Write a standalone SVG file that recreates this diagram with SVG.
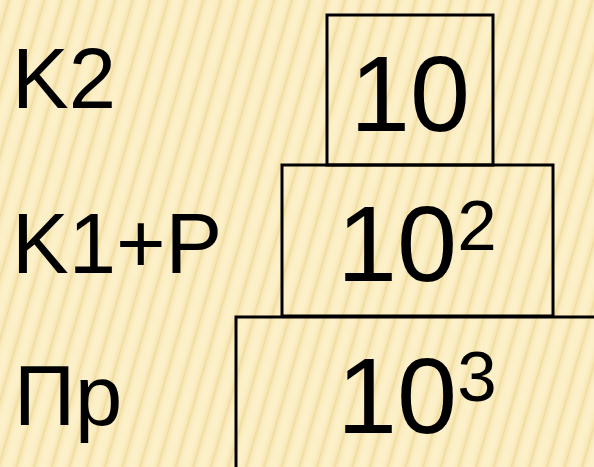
<svg xmlns="http://www.w3.org/2000/svg" width="594" height="467" viewBox="0 0 594 467">
  <style>
    .box { fill: none; stroke: #000; stroke-width: 3; }
    .lbl { font-family: "Liberation Sans", Arial, sans-serif; font-size: 85px; fill: #000; }
    .num { font-family: "Liberation Sans", Arial, sans-serif; font-size: 108px; fill: #000; }
    .sup { font-size: 71px; }
  </style>
  <defs>
    <linearGradient id="stripeGrad" x1="0" y1="0" x2="1" y2="0">
      <stop offset="0" stop-color="#FCF0C9"/>
      <stop offset="0.35" stop-color="#F8E8B6"/>
      <stop offset="0.5" stop-color="#F0DCA2"/>
      <stop offset="0.65" stop-color="#F8E8B6"/>
      <stop offset="1" stop-color="#FCF0C9"/>
    </linearGradient>
    <pattern id="bg" width="17" height="40" patternUnits="userSpaceOnUse" patternTransform="rotate(16)">
      <rect width="17" height="40" fill="#FCF0C9"/>
      <rect x="3" width="11" height="40" fill="url(#stripeGrad)"/>
    </pattern>
  </defs>
  <rect width="594" height="467" fill="url(#bg)"/>

  <g id="label-k2"><text class="lbl" x="12" y="108">K2</text></g>
  <g id="label-k1p"><text class="lbl" x="12" y="273">K1+P</text></g>
  <g id="label-pr"><text class="lbl" x="14" y="425">Пр</text></g>

  <g id="node-top">
    <rect class="box" x="327" y="15" width="166" height="150"/>
    <text class="num" x="410" y="131" text-anchor="middle">10</text>
  </g>
  <g id="node-middle">
    <rect class="box" x="282" y="165" width="271" height="151"/>
    <text class="num" x="337" y="281">10<tspan class="sup" dy="-31">2</tspan></text>
  </g>
  <g id="node-bottom">
    <rect class="box" x="236" y="317" width="400" height="200"/>
    <text class="num" x="337" y="433">10<tspan class="sup" dy="-32">3</tspan></text>
  </g>
  <g id="connectors"></g>
</svg>
